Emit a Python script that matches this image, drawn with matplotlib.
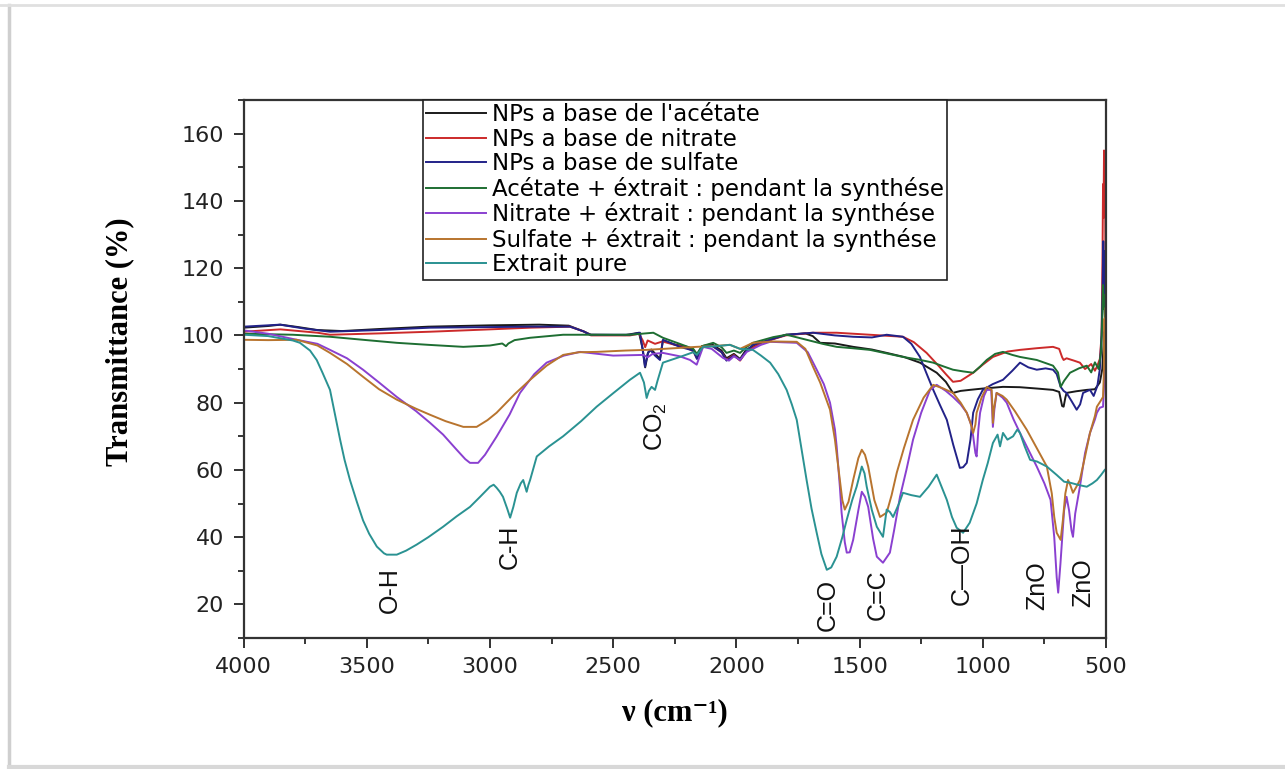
import matplotlib
matplotlib.use("Agg")
import matplotlib.pyplot as plt
from matplotlib.lines import Line2D
from matplotlib.ticker import MultipleLocator

# FTIR spectra, wavenumber (cm-1) vs transmittance (%)

acetate_x = [4000, 3900, 3850, 3780, 3700, 3600, 3450, 3250, 3000, 2800, 2680, 2620, 2590, 2450,
             2395, 2380, 2370, 2358, 2345, 2325, 2310, 2298, 2250, 2200, 2175, 2160, 2140, 2100,
             2060, 2040, 2010, 1985, 1960, 1900, 1800, 1720, 1690, 1660, 1600, 1526, 1450, 1390,
             1320, 1255, 1187, 1150, 1121, 1090, 1053, 1000, 918, 850, 780, 715, 690, 678, 672,
             665, 660, 620, 578, 545, 525, 515, 510, 507, 505, 502]
acetate_y = [102.3, 102.8, 103.2, 102.5, 101.6, 101.3, 101.9, 102.6, 103.0, 103.2, 102.9, 101.2,
             100.2, 100.1, 100.8, 96.0, 90.5, 95.0, 95.8, 94.2, 93.0, 98.5, 97.3, 96.6, 95.8, 93.5,
             96.8, 97.4, 95.5, 93.2, 94.5, 93.0, 95.8, 97.8, 100.2, 100.6, 99.8, 97.8, 97.6, 96.6,
             95.8, 94.8, 93.6, 91.9, 88.9, 86.2, 82.9, 83.5, 83.8, 84.2, 84.7, 84.6, 84.2, 83.8,
             83.2, 79.0, 78.8, 81.5, 82.9, 83.4, 83.8, 84.0, 86.0, 90.0, 97.0, 101.0, 92.0, 88.0]

nitrate_x = [4000, 3850, 3700, 3649, 3450, 3243, 3000, 2837, 2675, 2620, 2590, 2432, 2395, 2380,
             2370, 2360, 2330, 2300, 2250, 2200, 2175, 2160, 2140, 2100, 2060, 2040, 2010, 1985,
             1960, 1900, 1800, 1689, 1593, 1458, 1324, 1280, 1228, 1180, 1150, 1121, 1090, 1039,
             1000, 959, 900, 849, 780, 715, 690, 678, 672, 660, 630, 606, 585, 578, 560, 545, 535,
             525, 518, 514, 512, 510, 508, 506, 504, 502]
nitrate_y = [101.1, 101.8, 100.8, 100.2, 100.6, 101.1, 101.8, 102.3, 102.6, 101.2, 100.0, 100.0,
             100.5, 98.5, 96.5, 98.5, 97.5, 98.2, 97.2, 96.3, 95.3, 93.2, 96.4, 97.0, 95.0, 92.7,
             94.2, 92.5, 95.2, 97.8, 100.0, 100.8, 100.8, 100.2, 99.6, 98.0, 94.8, 91.0, 88.5,
             86.2, 86.5, 88.9, 91.3, 93.6, 95.2, 95.7, 96.2, 96.6, 96.0, 93.5, 92.7, 93.2, 92.5,
             91.9, 90.0, 90.4, 91.5, 89.5, 91.0, 93.0, 100.0, 125.0, 145.0, 135.0, 155.0, 142.0,
             150.0, 120.0]

sulfate_x = [4000, 3852, 3750, 3649, 3450, 3243, 2837, 2675, 2620, 2594, 2432, 2391, 2380, 2371,
             2360, 2350, 2330, 2310, 2298, 2229, 2175, 2160, 2140, 2100, 2060, 2040, 2010, 1985,
             1960, 1933, 1796, 1689, 1600, 1526, 1450, 1390, 1324, 1290, 1255, 1230, 1201, 1175,
             1146, 1120, 1093, 1080, 1065, 1050, 1039, 1020, 1000, 960, 918, 880, 849, 815, 781,
             745, 715, 700, 684, 672, 660, 640, 619, 605, 593, 575, 565, 550, 535, 525, 518, 514,
             511, 509, 507, 505, 502]
sulfate_y = [102.6, 103.2, 102.0, 101.1, 101.6, 102.3, 102.6, 102.6, 101.2, 100.2, 100.2, 100.8,
             95.5, 90.7, 94.5, 95.7, 94.0, 92.7, 98.7, 96.6, 95.5, 93.0, 96.5, 97.0, 95.0, 92.5,
             94.0, 92.7, 95.3, 97.2, 100.2, 100.8, 100.0, 99.6, 99.4, 100.2, 99.6, 97.5, 93.6,
             89.0, 83.8, 79.5, 74.9, 67.5, 60.6, 60.8, 62.1, 69.0, 77.0, 81.0, 83.8, 85.5, 86.8,
             89.5, 91.9, 90.5, 89.8, 90.2, 89.8, 88.5, 84.7, 83.5, 82.9, 80.5, 77.9, 79.5, 82.9,
             83.5, 83.8, 82.0, 85.0, 90.0, 100.0, 112.0, 128.0, 115.0, 125.0, 108.0, 100.0]

acet_ext_x = [4000, 3800, 3649, 3500, 3378, 3250, 3108, 3000, 2950, 2935, 2925, 2900, 2837, 2703,
              2432, 2337, 2298, 2230, 2175, 2160, 2140, 2094, 2060, 2040, 2010, 1985, 1960, 1933,
              1850, 1796, 1715, 1650, 1593, 1530, 1458, 1400, 1324, 1260, 1201, 1160, 1121, 1080,
              1039, 1010, 984, 950, 918, 880, 849, 781, 715, 695, 684, 670, 646, 610, 578, 560,
              545, 530, 520, 515, 512, 509, 506, 503]
acet_ext_y = [100.5, 100.2, 99.6, 98.6, 97.8, 97.2, 96.6, 97.0, 97.6, 96.8, 97.6, 98.6, 99.3,
              100.2, 100.2, 100.8, 99.3, 97.5, 96.0, 94.5, 96.8, 97.8, 96.5, 94.8, 95.5, 94.8,
              96.5, 97.8, 99.5, 100.2, 98.7, 97.5, 96.6, 96.2, 95.7, 94.8, 93.6, 92.8, 91.9, 90.8,
              89.8, 89.3, 88.9, 90.8, 92.7, 94.5, 95.1, 94.2, 93.6, 92.7, 91.0, 89.0, 84.7, 86.5,
              88.9, 90.2, 91.0, 89.0, 92.0, 90.0, 95.0, 105.0, 115.0, 108.0, 112.0, 100.0]

nitr_ext_x = [4000, 3900, 3784, 3700, 3649, 3580, 3515, 3450, 3378, 3300, 3243, 3190, 3135, 3100,
              3081, 3048, 3020, 2973, 2920, 2878, 2820, 2770, 2700, 2634, 2500, 2378, 2360, 2340,
              2298, 2230, 2188, 2161, 2135, 2100, 2054, 2030, 2010, 1985, 1958, 1900, 1863, 1755,
              1710, 1674, 1645, 1620, 1600, 1593, 1580, 1573, 1560, 1552, 1540, 1526, 1505, 1491,
              1478, 1465, 1445, 1430, 1405, 1377, 1360, 1336, 1310, 1283, 1250, 1214, 1187, 1150,
              1121, 1090, 1065, 1045, 1039, 1030, 1025, 1018, 1011, 995, 984, 966, 962, 959, 953,
              944, 920, 903, 875, 849, 815, 781, 750, 725, 710, 700, 694, 685, 670, 660, 650, 640,
              634, 625, 606, 585, 565, 545, 537, 525, 512, 508, 505, 502]
nitr_ext_y = [101.5, 100.5, 98.7, 97.5, 95.7, 93.2, 89.8, 86.0, 81.7, 77.5, 74.0, 70.5, 66.0, 63.2,
              62.1, 62.1, 64.5, 69.9, 76.5, 82.9, 88.5, 91.9, 94.0, 95.1, 94.0, 94.2, 93.5, 94.5,
              94.8, 93.8, 92.7, 91.3, 96.6, 96.0, 93.3, 92.5, 93.8, 92.7, 95.1, 97.2, 98.1, 97.8,
              95.0, 89.8, 85.5, 80.0, 72.0, 67.0, 55.0, 47.3, 38.5, 35.4, 35.5, 39.2, 48.0, 53.5,
              52.0, 49.0, 39.5, 34.2, 32.4, 35.4, 42.0, 52.0, 60.0, 69.0, 77.0, 83.8, 85.3, 83.5,
              81.7, 79.5, 77.0, 73.0, 70.0, 65.0, 64.0, 72.0, 77.0, 82.0, 83.8, 83.8, 78.0, 72.8,
              78.0, 82.9, 81.5, 80.0, 75.0, 71.0, 66.0, 61.0, 56.0, 51.1, 40.0, 28.0, 23.5, 32.0,
              48.0, 52.0, 48.0, 42.0, 40.1, 47.0, 55.0, 65.0, 71.0, 75.0, 77.0, 78.5, 78.8, 85.0,
              95.0, 88.0]

sulf_ext_x = [4000, 3900, 3784, 3700, 3649, 3580, 3515, 3450, 3378, 3300, 3243, 3180, 3108, 3054,
              3010, 2973, 2900, 2837, 2770, 2703, 2640, 2567, 2450, 2364, 2250, 2161, 2100, 2026,
              1985, 1933, 1850, 1755, 1720, 1689, 1660, 1620, 1600, 1580, 1570, 1560, 1545, 1526,
              1505, 1491, 1478, 1465, 1440, 1417, 1390, 1370, 1349, 1320, 1283, 1240, 1201, 1160,
              1121, 1090, 1065, 1050, 1039, 1030, 1025, 1005, 984, 964, 961, 959, 955, 944, 920,
              903, 870, 822, 781, 740, 720, 710, 700, 684, 675, 665, 654, 645, 634, 620, 606, 585,
              565, 545, 537, 522, 512, 509, 506, 504, 502]
sulf_ext_y = [98.7, 98.6, 98.7, 97.0, 94.8, 91.5, 87.7, 84.0, 80.9, 78.2, 76.4, 74.5, 72.8, 72.8,
              74.8, 77.0, 82.5, 86.8, 91.0, 94.2, 95.0, 95.1, 95.5, 95.7, 96.2, 96.6, 96.8, 97.2,
              96.0, 97.8, 98.2, 98.1, 96.0, 90.7, 86.0, 77.9, 69.0, 57.0, 51.0, 48.2, 50.5, 57.0,
              63.5, 66.0, 64.5, 61.0, 51.0, 46.0, 47.3, 52.5, 59.2, 66.5, 74.9, 81.5, 85.3, 84.2,
              82.9, 80.0, 77.0, 74.0, 71.0, 73.5, 77.0, 81.5, 84.7, 83.8, 79.0, 74.0, 78.0, 82.9,
              82.0, 80.9, 77.5, 72.0, 66.5, 61.0, 53.0, 46.0, 41.3, 39.2, 45.0, 53.0, 57.0, 55.5,
              53.2, 55.0, 57.0, 64.0, 71.0, 76.0, 78.8, 80.5, 81.7, 88.0, 105.0, 90.0, 108.0]

extrait_x = [4000, 3900, 3800, 3771, 3730, 3703, 3680, 3649, 3630, 3608, 3590, 3568, 3540, 3515,
             3490, 3459, 3430, 3419, 3378, 3340, 3297, 3250, 3190, 3135, 3081, 3040, 3000, 2985,
             2973, 2960, 2947, 2930, 2918, 2905, 2891, 2875, 2865, 2857, 2851, 2844, 2837, 2810,
             2760, 2703, 2630, 2567, 2500, 2432, 2391, 2375, 2364, 2355, 2344, 2330, 2320, 2298,
             2229, 2175, 2160, 2135, 2080, 2026, 1985, 1933, 1900, 1863, 1830, 1796, 1775, 1755,
             1735, 1715, 1695, 1674, 1655, 1633, 1615, 1593, 1570, 1552, 1530, 1512, 1491, 1480,
             1471, 1450, 1430, 1405, 1395, 1390, 1377, 1364, 1340, 1324, 1290, 1255, 1220, 1187,
             1170, 1146, 1125, 1106, 1080, 1053, 1025, 1000, 980, 959, 940, 930, 918, 900, 877,
             860, 849, 830, 808, 780, 740, 700, 670, 646, 610, 578, 555, 537, 520, 505]
extrait_y = [100.2, 99.8, 98.5, 97.8, 95.5, 92.7, 89.0, 83.8, 77.0, 69.0, 63.0, 57.0, 50.5, 45.0,
             41.0, 37.2, 35.2, 34.8, 34.8, 36.0, 37.8, 40.0, 43.1, 46.2, 49.0, 52.0, 55.0, 55.6,
             54.7, 53.5, 52.0, 48.5, 45.8, 49.0, 53.2, 56.0, 57.0, 55.0, 53.5, 55.5, 57.0, 64.0,
             67.0, 70.0, 74.5, 78.8, 82.8, 86.8, 88.9, 86.0, 81.4, 83.5, 84.7, 83.8, 86.5, 91.9,
             93.6, 95.0, 94.2, 96.6, 96.8, 97.2, 96.0, 95.7, 94.0, 91.9, 88.5, 83.8, 79.5, 74.9,
             66.0, 57.0, 48.5, 41.3, 35.0, 30.3, 31.0, 34.2, 40.0, 45.2, 51.0, 55.0, 61.0, 59.0,
             55.0, 48.0, 43.1, 40.1, 45.5, 48.2, 47.5, 46.0, 50.0, 53.2, 52.5, 52.0, 55.0, 58.6,
             55.5, 51.1, 46.0, 42.8, 41.3, 44.3, 50.0, 57.0, 62.0, 68.0, 70.5, 67.0, 71.0, 69.0,
             70.0, 72.0, 71.0, 67.0, 63.0, 62.5, 61.0, 58.5, 56.5, 56.2, 55.5, 55.0, 56.0, 57.0,
             58.5, 60.0]

labels = ["NPs a base de l'acétate",
          "NPs a base de nitrate",
          "NPs a base de sulfate",
          "Acétate + éxtrait : pendant la synthése",
          "Nitrate + éxtrait : pendant la synthése",
          "Sulfate + éxtrait : pendant la synthése",
          "Extrait pure"]

# band assignments written under the peaks
band_names = ["O-H", "C-H", "CO$_2$", "C=O", "C=C", "C\u2014OH", "ZnO", "ZnO"]
band_x = [3406, 2919, 2326, 1628, 1425, 1084, 778, 592]
band_y = [24.4, 37.2, 72.8, 19.9, 22.9, 31.8, 25.5, 26.5]

colors = ["#1a1a1a", "#cc2a2a", "#222288", "#1e6e32", "#8a40d0", "#b8742e", "#2a9292"]

plt.rcParams['mathtext.fontset'] = 'custom'
plt.rcParams['mathtext.rm'] = 'Liberation Sans'

fig = plt.figure(figsize=(12.85, 7.69), dpi=100)
ax = fig.add_axes([0.1895, 0.1703, 0.6712, 0.6996])

series = [(acetate_x, acetate_y), (nitrate_x, nitrate_y), (sulfate_x, sulfate_y),
          (acet_ext_x, acet_ext_y), (nitr_ext_x, nitr_ext_y), (sulf_ext_x, sulf_ext_y),
          (extrait_x, extrait_y)]
for (xs, ys), c, lab in zip(series, colors, labels):
    ax.plot(xs, ys, color=c, lw=1.4, label=lab)

for name, bx, by in zip(band_names, band_x, band_y):
    ax.text(bx, by, name, rotation=90, ha='center', va='center',
            fontsize=18, family='Liberation Sans', color='#111111')

ax.set_xlim(4000, 500)
ax.set_ylim(10, 170)
ax.xaxis.set_major_locator(MultipleLocator(500))
ax.xaxis.set_minor_locator(MultipleLocator(250))
ax.yaxis.set_major_locator(MultipleLocator(20))
ax.yaxis.set_minor_locator(MultipleLocator(10))
ax.set_yticks([20, 40, 60, 80, 100, 120, 140, 160])
ax.tick_params(which='major', direction='out', length=7, width=1.3, pad=7,
               labelsize=16, colors='#222222')
ax.tick_params(which='minor', direction='out', length=4, width=1.1)
for lbl in ax.get_xticklabels() + ax.get_yticklabels():
    lbl.set_family('DejaVu Sans')
for sp in ax.spines.values():
    sp.set_linewidth(1.6)
    sp.set_color('#333333')

ax.set_xlabel("\u03bd (cm\u207b\u00b9)", fontsize=22, fontweight='bold',
              family=['Liberation Serif', 'DejaVu Serif'])
ax.set_ylabel("Transmittance (%)", fontsize=22, fontweight='bold',
              family=['Liberation Serif', 'DejaVu Serif'])
ax.xaxis.set_label_coords(0.5, -0.112)
ax.yaxis.set_label_coords(-0.127, 0.551)

leg = ax.legend(loc='upper left', bbox_to_anchor=(0.208, 1.0), borderaxespad=0,
                fancybox=False, framealpha=1, edgecolor='#222222',
                prop={'family': 'DejaVu Sans', 'size': 16.5},
                handlelength=2.6, handletextpad=0.25, labelspacing=0.065, borderpad=0.15)
leg.get_frame().set_linewidth(1.2)

# page edge of the original scan
fig.add_artist(Line2D([9 / 1285, 9 / 1285], [2 / 769, 764 / 769], color='#cfcfcf', lw=2.5))
fig.add_artist(Line2D([0.0, 1.0], [764 / 769, 764 / 769], color='#e0e0e0', lw=2))
fig.add_artist(Line2D([9 / 1285, 1.0], [2 / 769, 2 / 769], color='#d8d8d8', lw=3))

fig.savefig("out.png", dpi=100)
